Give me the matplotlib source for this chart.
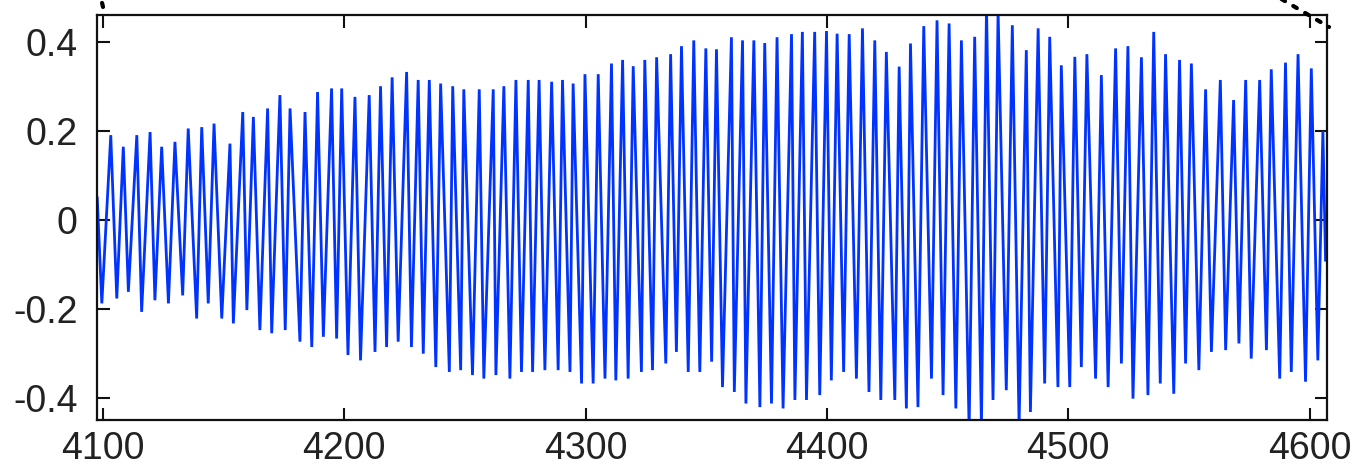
import matplotlib
matplotlib.use("Agg")
import matplotlib.pyplot as plt
from matplotlib.lines import Line2D

# Sample positions (x) and values (y) of the successive peaks and troughs
sample_x = [
    4097.6, 4099.5, 4103.2, 4105.7, 4108.4, 4110.5, 4114.0, 4116.0, 4119.5, 4121.5,
    4124.3, 4127.1, 4129.8, 4133.0, 4135.3, 4138.8, 4140.9, 4143.6, 4146.0, 4149.2,
    4152.6, 4154.0, 4157.9, 4159.6, 4162.3, 4165.0, 4168.2, 4169.9, 4173.3, 4175.5,
    4177.5, 4181.6, 4183.7, 4186.5, 4188.9, 4191.3, 4194.7, 4196.8, 4198.9, 4201.5,
    4204.4, 4206.7, 4210.3, 4212.7, 4215.0, 4217.5, 4219.8, 4222.3, 4225.8, 4227.8,
    4230.6, 4232.7, 4235.2, 4237.9, 4239.9, 4243.5, 4244.9, 4248.2, 4249.5, 4253.1,
    4255.9, 4257.8, 4261.7, 4262.8, 4266.1, 4268.6, 4271.1, 4273.4, 4276.2, 4278.0,
    4280.7, 4283.1, 4285.9, 4288.6, 4290.4, 4293.5, 4294.8, 4298.3, 4299.7, 4303.1,
    4305.2, 4308.0, 4310.7, 4312.5, 4315.3, 4317.6, 4319.7, 4323.1, 4324.5, 4327.7,
    4329.4, 4333.2, 4335.2, 4337.6, 4339.7, 4342.5, 4344.8, 4347.3, 4349.8, 4352.2,
    4354.2, 4356.7, 4360.4, 4361.6, 4365.0, 4366.4, 4369.7, 4372.2, 4374.2, 4377.0,
    4379.3, 4381.8, 4385.3, 4386.7, 4389.8, 4391.5, 4394.9, 4397.0, 4399.8, 4401.8,
    4404.2, 4406.9, 4409.2, 4412.2, 4414.7, 4417.4, 4419.8, 4422.3, 4424.6, 4428.1,
    4429.9, 4432.9, 4434.6, 4437.7, 4440.1, 4443.3, 4445.6, 4448.1, 4450.6, 4453.4,
    4455.7, 4458.9, 4461.2, 4464.0, 4466.1, 4468.8, 4470.9, 4474.3, 4476.8, 4479.6,
    4482.6, 4484.3, 4487.5, 4490.2, 4492.3, 4495.7, 4497.1, 4500.6, 4502.7, 4505.4,
    4507.7, 4511.3, 4513.7, 4516.5, 4519.6, 4522.0, 4524.7, 4526.8, 4530.3, 4533.0,
    4535.4, 4538.1, 4540.3, 4543.7, 4546.1, 4548.6, 4551.0, 4554.1, 4556.9, 4559.3,
    4563.0, 4565.2, 4568.5, 4570.7, 4573.5, 4575.8, 4579.3, 4582.1, 4584.1, 4587.6,
    4590.0, 4592.4, 4595.2, 4598.3, 4600.7, 4603.4, 4605.5, 4606.6,
]
sample_y = [
    0.050, -0.187, 0.191, -0.176, 0.165, -0.161, 0.191, -0.206, 0.198, -0.180,
    0.165, -0.187, 0.176, -0.169, 0.206, -0.221, 0.209, -0.187, 0.217, -0.221,
    0.172, -0.232, 0.243, -0.202, 0.232, -0.247, 0.251, -0.254, 0.281, -0.247,
    0.251, -0.273, 0.243, -0.285, 0.288, -0.262, 0.296, -0.266, 0.296, -0.303,
    0.277, -0.315, 0.281, -0.296, 0.301, -0.285, 0.321, -0.273, 0.333, -0.285,
    0.315, -0.300, 0.315, -0.330, 0.307, -0.341, 0.301, -0.337, 0.294, -0.348,
    0.294, -0.356, 0.294, -0.348, 0.301, -0.356, 0.315, -0.341, 0.315, -0.341,
    0.315, -0.337, 0.311, -0.337, 0.315, -0.341, 0.307, -0.367, 0.328, -0.367,
    0.328, -0.356, 0.352, -0.360, 0.360, -0.356, 0.346, -0.341, 0.360, -0.337,
    0.366, -0.322, 0.373, -0.296, 0.391, -0.341, 0.404, -0.341, 0.386, -0.318,
    0.384, -0.375, 0.411, -0.386, 0.404, -0.412, 0.404, -0.420, 0.398, -0.412,
    0.411, -0.423, 0.418, -0.404, 0.423, -0.404, 0.423, -0.393, 0.425, -0.360,
    0.419, -0.341, 0.418, -0.356, 0.431, -0.386, 0.404, -0.404, 0.378, -0.404,
    0.345, -0.423, 0.397, -0.420, 0.436, -0.356, 0.449, -0.393, 0.442, -0.423,
    0.404, -0.470, 0.412, -0.460, 0.480, -0.404, 0.470, -0.382, 0.438, -0.460,
    0.382, -0.431, 0.431, -0.367, 0.412, -0.375, 0.348, -0.375, 0.367, -0.330,
    0.373, -0.356, 0.326, -0.375, 0.386, -0.322, 0.391, -0.401, 0.366, -0.393,
    0.423, -0.367, 0.373, -0.390, 0.360, -0.322, 0.352, -0.337, 0.294, -0.296,
    0.315, -0.292, 0.270, -0.277, 0.315, -0.311, 0.315, -0.292, 0.339, -0.356,
    0.354, -0.341, 0.373, -0.363, 0.341, -0.315, 0.200, -0.090,
]

x_ticks = [4100, 4200, 4300, 4400, 4500, 4600]
y_ticks = [-0.4, -0.2, 0.0, 0.2, 0.4]
y_tick_labels = ["-0.4", "-0.2", "0", "0.2", "0.4"]

W, H = 1353, 468
fig = plt.figure(figsize=(W / 100, H / 100), dpi=100)
ax = fig.add_axes([97 / W, 1 - 420 / H, (1327 - 97) / W, (420 - 15) / H])

ax.plot(sample_x, sample_y, color="#0033ff", lw=2.0, solid_joinstyle="miter")

ax.set_xlim(4097.5, 4607.2)
ax.set_ylim(-0.449, 0.461)
ax.set_xticks(x_ticks)
ax.set_xticklabels([str(v) for v in x_ticks])
ax.set_yticks(y_ticks)
ax.set_yticklabels(y_tick_labels)

for lab in ax.get_xticklabels() + ax.get_yticklabels():
    lab.set_fontfamily("Liberation Sans")
    lab.set_fontsize(27)
    lab.set_color("#222222")

ax.tick_params(direction="in", length=9, width=1.5, top=True, right=True,
               colors="#111111", labelcolor="#222222")
ax.tick_params(axis="x", pad=8)
ax.tick_params(axis="y", pad=14)
for s in ax.spines.values():
    s.set_linewidth(1.6)
    s.set_color("#111111")

# dotted connector lines at the top corners (figure pixel coordinates)
def fig_line(x0, y0, x1, y1):
    fig.add_artist(Line2D([x0 / W, x1 / W], [1 - y0 / H, 1 - y1 / H],
                          transform=fig.transFigure, color="black", lw=3,
                          linestyle=(0, (1, 2.3)), dash_capstyle="round"))

fig_line(1278, -3, 1329, 27)
fig_line(103, 7, 100, -6)

fig.savefig("out.png", dpi=100)
